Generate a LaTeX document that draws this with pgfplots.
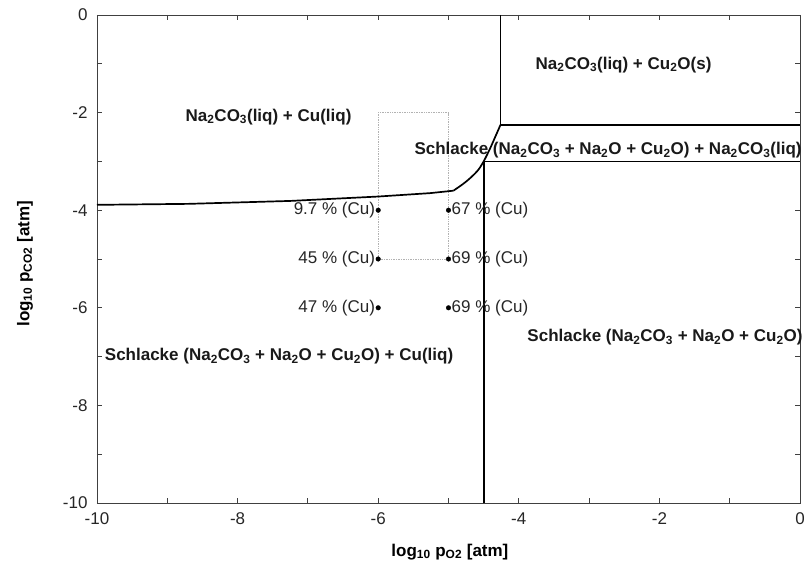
\documentclass[border=0pt]{standalone}
\usepackage{fontspec}
\setmainfont{Liberation Sans}
\usepackage{pgfplots}
\pgfplotsset{compat=1.18}

\newcommand{\sub}[1]{\textsubscript{#1}}

\begin{document}
\begin{tikzpicture}
\useasboundingbox (-97pt,-63pt) rectangle (707pt,503pt);
\begin{axis}[
  scale only axis,
  width=703pt, height=488pt,
  xmin=-10, xmax=0, ymin=-10, ymax=0,
  xtick={-10,-8,...,0}, ytick={-10,-8,...,0},
  minor tick num=1,
  tick align=inside,
  major tick length=5pt, minor tick length=5pt,
  axis line style={black!75, line width=0.9pt},
  every tick/.style={black!75, line width=0.8pt},
  tick label style={font=\fontsize{17}{20}\selectfont, text=black!85},
  /pgf/number format/assume math mode=true,
  xticklabel style={yshift=-6pt},
  yticklabel style={xshift=-6pt},
  xlabel={\textbf{log\sub{10} p\sub{O2} [atm]}},
  ylabel={\textbf{log\sub{10} p\sub{CO2} [atm]}},
  label style={font=\fontsize{17}{20}\selectfont},
  xlabel style={at={(axis description cs:0.502,-0.1004)}, anchor=center},
  ylabel style={at={(axis description cs:-0.1024,0.49)}, anchor=center},
  clip=false,
]
% dotted frame around the measured points
\addplot[gray!60, densely dotted, line width=0.7pt] coordinates {
  (-6,-2) (-5,-2) (-5,-5) (-6,-5) (-6,-2)};

% phase boundaries
\addplot[black, line width=1.7pt] coordinates {
  (-10,-3.89) (-8.7,-3.87) (-7.25,-3.81) (-6,-3.72) (-5.26,-3.65) (-4.93,-3.60)};
\addplot[black, line width=1.7pt, smooth] coordinates {
  (-4.93,-3.60) (-4.80,-3.47) (-4.69,-3.34) (-4.58,-3.18) (-4.50,-3.00)
  (-4.41,-2.74) (-4.33,-2.48) (-4.26,-2.25)};
\addplot[black, line width=1.7pt] coordinates {(-4.26,0) (-4.26,-2.25) (0,-2.25)};
\addplot[black, line width=1.7pt] coordinates {(-4.5,-10) (-4.5,-3.0) (0,-3.0)};

% measured points with Cu content
\addplot[only marks, mark=*, mark size=2.3pt, black,
  point meta=explicit symbolic,
  nodes near coords, every node near coord/.style={anchor=east, inner sep=3pt,
    font=\fontsize{17}{20}\selectfont, text=black!85}]
  table[meta=label, col sep=comma] {
x,y,label
-6,-4,9.7 \% (Cu)
-6,-5,45 \% (Cu)
-6,-6,47 \% (Cu)
};
\addplot[only marks, mark=*, mark size=2.3pt, black,
  point meta=explicit symbolic,
  nodes near coords, every node near coord/.style={anchor=west, inner sep=3pt,
    font=\fontsize{17}{20}\selectfont, text=black!85}]
  table[meta=label, col sep=comma] {
x,y,label
-5,-4,67 \% (Cu)
-5,-5,69 \% (Cu)
-5,-6,69 \% (Cu)
};

% phase field names
\begin{scope}[every node/.style={font=\bfseries\fontsize{17}{20}\selectfont, text=black!90, inner sep=0pt}]
\node at (axis cs:-7.56,-2.09) {Na\sub{2}CO\sub{3}(liq) + Cu(liq)};
\node at (axis cs:-2.51,-1.02) {Na\sub{2}CO\sub{3}(liq) + Cu\sub{2}O(s)};
\node at (axis cs:-2.73,-2.77) {Schlacke (Na\sub{2}CO\sub{3} + Na\sub{2}O + Cu\sub{2}O) + Na\sub{2}CO\sub{3}(liq)};
\node at (axis cs:-1.92,-6.60) {Schlacke (Na\sub{2}CO\sub{3} + Na\sub{2}O + Cu\sub{2}O)};
\node[anchor=west] at (axis cs:-9.89,-7.00) {Schlacke (Na\sub{2}CO\sub{3} + Na\sub{2}O + Cu\sub{2}O) + Cu(liq)};
\end{scope}
\end{axis}
\end{tikzpicture}
\end{document}
